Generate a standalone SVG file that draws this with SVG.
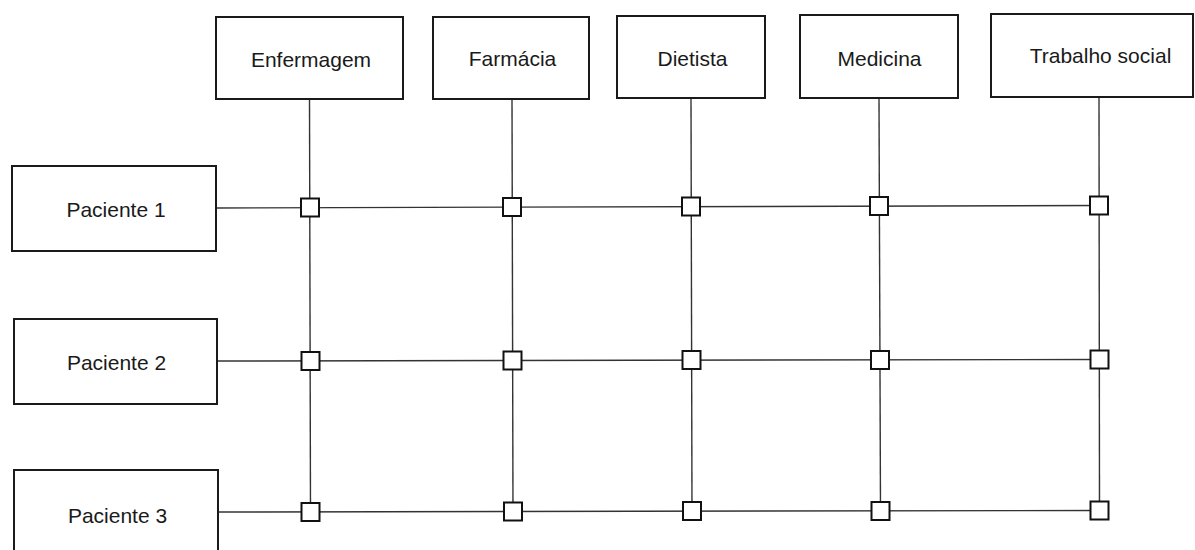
<svg xmlns="http://www.w3.org/2000/svg" width="1195" height="550" viewBox="0 0 1195 550">
<style>
.box{fill:#fff;stroke:#1a1a1a;stroke-width:2}
.lbl{font-family:"Liberation Sans",Arial,sans-serif;font-size:21px;fill:#1a1a1a;text-anchor:middle}
.ln{stroke:#333;stroke-width:1.4;fill:none}
.sq{fill:#fff;stroke:#111;stroke-width:2}
</style>
<rect width="1195" height="550" fill="#fff"/>
<g id="connectors">
<line class="ln" x1="309.5" y1="99" x2="310.5" y2="512"/>
<line class="ln" x1="512" y1="99" x2="513" y2="511.5"/>
<line class="ln" x1="691" y1="98" x2="692" y2="511"/>
<line class="ln" x1="879" y1="98" x2="880.5" y2="511"/>
<line class="ln" x1="1099" y1="97" x2="1099.5" y2="510.5"/>
<line class="ln" x1="216" y1="208" x2="1099" y2="205.5"/>
<line class="ln" x1="217" y1="361" x2="1099.5" y2="359.5"/>
<line class="ln" x1="218" y1="512" x2="1099.5" y2="510.5"/>
</g>
<g id="junctions">
<rect class="sq" x="301" y="198.5" width="18" height="18"/>
<rect class="sq" x="503" y="198" width="18" height="18"/>
<rect class="sq" x="682" y="197.5" width="18" height="18"/>
<rect class="sq" x="870" y="197" width="18" height="18"/>
<rect class="sq" x="1090" y="196.5" width="18" height="18"/>
<rect class="sq" x="301.5" y="352" width="18" height="18"/>
<rect class="sq" x="503.5" y="351.5" width="18" height="18"/>
<rect class="sq" x="682.5" y="351" width="18" height="18"/>
<rect class="sq" x="871" y="351" width="18" height="18"/>
<rect class="sq" x="1090.5" y="350.5" width="18" height="18"/>
<rect class="sq" x="301.5" y="503" width="18" height="18"/>
<rect class="sq" x="504" y="502.5" width="18" height="18"/>
<rect class="sq" x="683" y="502" width="18" height="18"/>
<rect class="sq" x="871.5" y="502" width="18" height="18"/>
<rect class="sq" x="1090.5" y="501.5" width="18" height="18"/>
</g>
<g id="enfermagem"><rect class="box" x="216" y="17" width="187" height="82"/><text class="lbl" x="311" y="66.5">Enfermagem</text></g>
<g id="farmacia"><rect class="box" x="433" y="17" width="156" height="82"/><text class="lbl" x="512.5" y="66">Farmácia</text></g>
<g id="dietista"><rect class="box" x="617" y="16" width="148" height="82"/><text class="lbl" x="692.5" y="66">Dietista</text></g>
<g id="medicina"><rect class="box" x="800" y="15" width="158" height="83"/><text class="lbl" x="879.5" y="66">Medicina</text></g>
<g id="trabalho-social"><rect class="box" x="991" y="14" width="202" height="83"/><text class="lbl" x="1100.5" y="63">Trabalho social</text></g>
<g id="paciente-1"><rect class="box" x="12" y="166" width="204" height="85"/><text class="lbl" x="116" y="217">Paciente 1</text></g>
<g id="paciente-2"><rect class="box" x="14" y="319" width="203" height="85"/><text class="lbl" x="116.5" y="370">Paciente 2</text></g>
<g id="paciente-3"><rect class="box" x="14" y="470" width="204" height="90"/><text class="lbl" x="117.5" y="522.5">Paciente 3</text></g>
</svg>
